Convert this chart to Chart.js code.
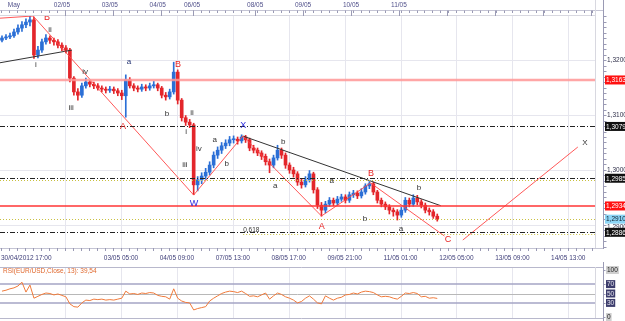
<!DOCTYPE html>
<html>
<head>
<meta charset="utf-8">
<script src="https://cdn.jsdelivr.net/npm/chart.js@4.4.0/dist/chart.umd.min.js"></script>
<style>
body { margin: 0; background: #fff; }
#wrap { position: relative; width: 625px; height: 321px; overflow: hidden; }
#main { position: absolute; left: 0; top: 0; }
#rsi { position: absolute; left: 0; top: 262px; }
</style>
</head>
<body>
<div id="wrap">
  <canvas id="main" width="625" height="262"></canvas>
  <canvas id="rsi" width="625" height="59"></canvas>
</div>
<script>
// EUR/USD 2h bars, 30/04 -> 11/05 2012
const opens = [
  1.3236,1.3240,1.3242,1.3244,1.3251,1.3258,1.3264,1.3269,1.3273,1.3209,
  1.3218,1.3233,1.3240,1.3236,1.3233,1.3227,1.3222,1.3218,1.3167,1.3142,
  1.3136,1.3153,1.3160,1.3156,1.3153,1.3149,1.3147,1.3145,1.3147,1.3144,
  1.3140,1.3135,1.3164,1.3153,1.3149,1.3147,1.3151,1.3149,1.3153,1.3155,
  1.3149,1.3136,1.3133,1.3142,1.3178,1.3127,1.3095,1.3087,1.3082,1.2973,
  1.2982,1.2989,1.2996,1.3009,1.3027,1.3036,1.3044,1.3049,1.3055,1.3056,
  1.3053,1.3060,1.3055,1.3040,1.3036,1.3031,1.3025,1.3015,1.3009,1.3022,
  1.3036,1.3027,1.3009,1.3000,1.2993,1.2978,1.2973,1.2982,1.2993,1.2964,
  1.2936,1.2927,1.2938,1.2945,1.2940,1.2947,1.2951,1.2945,1.2955,1.2958,
  1.2953,1.2960,1.2971,1.2975,1.2960,1.2945,1.2938,1.2933,1.2927,1.2924,
  1.2918,1.2927,1.2945,1.2938,1.2949,1.2942,1.2936,1.2927,1.2924,1.2916
];
const highs = [
  1.3244,1.3246,1.3249,1.3256,1.3264,1.3270,1.3275,1.3280,1.3278,1.3225,
  1.3238,1.3246,1.3244,1.3240,1.3237,1.3231,1.3226,1.3221,1.3170,1.3148,
  1.3158,1.3167,1.3163,1.3160,1.3157,1.3153,1.3151,1.3152,1.3151,1.3148,
  1.3145,1.3173,1.3168,1.3157,1.3153,1.3156,1.3155,1.3158,1.3161,1.3158,
  1.3152,1.3141,1.3147,1.3196,1.3182,1.3130,1.3099,1.3092,1.3085,1.2988,
  1.2995,1.3003,1.3015,1.3033,1.3042,1.3050,1.3055,1.3061,1.3062,1.3060,
  1.3064,1.3063,1.3058,1.3045,1.3040,1.3035,1.3029,1.3020,1.3027,1.3045,
  1.3040,1.3031,1.3013,1.3005,1.2997,1.2983,1.2988,1.2999,1.2996,1.2968,
  1.2941,1.2943,1.2950,1.2949,1.2952,1.2956,1.2955,1.2960,1.2963,1.2962,
  1.2966,1.2975,1.2979,1.2978,1.2963,1.2949,1.2942,1.2937,1.2931,1.2928,
  1.2932,1.2950,1.2949,1.2955,1.2954,1.2946,1.2940,1.2931,1.2928,1.2920
];
const lows = [
  1.3233,1.3237,1.3239,1.3241,1.3247,1.3252,1.3259,1.3262,1.3203,1.3204,
  1.3214,1.3229,1.3230,1.3227,1.3222,1.3217,1.3213,1.3160,1.3136,1.3127,
  1.3132,1.3149,1.3151,1.3148,1.3145,1.3142,1.3140,1.3141,1.3139,1.3135,
  1.3128,1.3096,1.3149,1.3144,1.3142,1.3143,1.3144,1.3145,1.3149,1.3144,
  1.3131,1.3127,1.3129,1.3138,1.3120,1.3089,1.3081,1.3077,1.2955,1.2962,
  1.2975,1.2983,1.2991,1.3004,1.3021,1.3030,1.3039,1.3044,1.3049,1.3047,
  1.3049,1.3050,1.3035,1.3031,1.3026,1.3019,1.3009,1.2995,1.3004,1.3018,
  1.3021,1.3003,1.2994,1.2987,1.2972,1.2967,1.2969,1.2978,1.2958,1.2930,
  1.2916,1.2922,1.2934,1.2935,1.2936,1.2943,1.2940,1.2941,1.2950,1.2948,
  1.2949,1.2956,1.2966,1.2955,1.2940,1.2933,1.2928,1.2920,1.2916,1.2909,
  1.2914,1.2923,1.2933,1.2934,1.2937,1.2931,1.2922,1.2918,1.2912,1.2907
];
const closes = [
  1.3240,1.3242,1.3244,1.3251,1.3258,1.3264,1.3269,1.3273,1.3209,1.3218,
  1.3233,1.3240,1.3236,1.3233,1.3227,1.3222,1.3218,1.3167,1.3142,1.3136,
  1.3153,1.3160,1.3156,1.3153,1.3149,1.3147,1.3145,1.3147,1.3144,1.3140,
  1.3135,1.3164,1.3153,1.3149,1.3147,1.3151,1.3149,1.3153,1.3155,1.3149,
  1.3136,1.3133,1.3142,1.3178,1.3127,1.3095,1.3087,1.3082,1.2973,1.2982,
  1.2989,1.2996,1.3009,1.3027,1.3036,1.3044,1.3049,1.3055,1.3056,1.3053,
  1.3060,1.3055,1.3040,1.3036,1.3031,1.3025,1.3015,1.3009,1.3022,1.3036,
  1.3027,1.3009,1.3000,1.2993,1.2978,1.2973,1.2982,1.2993,1.2964,1.2936,
  1.2927,1.2938,1.2945,1.2940,1.2947,1.2951,1.2945,1.2955,1.2958,1.2953,
  1.2960,1.2971,1.2975,1.2960,1.2945,1.2938,1.2933,1.2927,1.2924,1.2918,
  1.2927,1.2945,1.2938,1.2949,1.2942,1.2936,1.2927,1.2924,1.2916,1.2911
];
const rsi = [
  55,57,60,62,66,74,53,68,40,44, 48,51,50,47,49,46,43,28,22,21,
  30,36,35,38,37,38,36,37,36,38, 40,55,49,50,48,51,50,52,51,46,
  44,43,38,60,40,34,31,30,15,18, 20,22,34,40,45,50,53,55,54,52,
  55,50,44,45,43,47,51,38,45,51, 48,43,40,36,30,33,40,45,38,30,
  28,45,40,36,40,42,47,48,51,49, 53,55,54,52,47,43,44,43,40,38,
  44,51,50,52,50,43,44,40,41,39.54
];

// horizontal levels (right-axis boxes)
const levels = [1.31637, 1.30792, 1.29850, 1.29346, 1.29106, 1.28867];
const levelLabels = ["1,31637", "1,30792", "1,29850", "1,29346", "1,29106", "1,28867"];
const fibLevels = [1.29818, 1.29106, 1.28836];
const priceTicks = [1.32, 1.31, 1.30, 1.29];
const priceTickLabels = ["1,3200", "1,3100", "1,3000", "1,2900"];

// time axis (bar index)
const gridIdx = [15.8, 29.8, 43.8, 57.8, 71.8, 85.8, 99.8, 113.8, 127.8, 141.8];
const bottomLabels = ["30/04/2012 17:00", "03/05 05:00", "04/05 09:00", "07/05 13:00", "08/05 17:00",
  "09/05 21:00", "11/05 01:00", "12/05 05:00", "13/05 09:00", "14/05 13:00"];
const bottomLabelIdx = [-0.5, 29.8, 43.8, 57.8, 71.8, 85.8, 99.8, 113.8, 127.8, 141.8];
const topLabels = ["May", "02/05", "03/05", "04/05", "06/05", "08/05", "09/05", "10/05", "11/05"];
const topLabelIdx = [3.0, 15.0, 27.0, 39.0, 47.6, 63.4, 75.4, 87.4, 99.4];
const topMajorIdx = [15.8, 27.8, 39.8, 47.8, 63.4, 75.4, 87.4, 99.4, 111.4, 123.4, 135.4, 147.4];

// wave count
const redPath = [[-0.5, 1.3276], [7.8, 1.3280], [48, 1.29545], [60.3, 1.30618], [80, 1.29164], [92.3, 1.29764], [110.8, 1.2880]];
const projPath = [[115.4, 1.28727], [144.2, 1.30418]];
const blackLine = [[-0.5, 1.3195], [17.5, 1.3218]];
const trendLine = [[60.3, 1.30618], [109.9, 1.2935]];

const waveText = ["B","ii","i","iii","iv","a","A","B","b","ii","i","iv","iii","W","a","b","X","b","a","a","A","B","b","a","b","C","X"];
const waveIdx = [11.3,12.0,8.5,17.3,20.8,31.8,30.3,44.1,41.3,47.6,46.1,49.3,45.8,48.1,53.3,56.3,60.4,70.4,68.4,82.6,80.1,92.4,90.9,99.9,104.4,111.7,146.0];
const wavePrice = [1.32764,1.32545,1.31909,1.31127,1.31782,1.31964,1.30782,1.31909,1.31018,1.31036,1.30691,1.30382,1.30091,1.29382,1.30545,1.30109,1.30800,1.30509,1.29709,1.29800,1.28964,1.29945,1.29109,1.28927,1.29673,1.28727,1.30491];
const waveKind = ["R","d","d","d","d","n","R","R","d","d","d","d","d","X","d","d","X","d","d","d","R","R","d","d","d","R","d"];

const UP = "#2b6fd6", DOWN = "#e3262b";
const FONT = '"Liberation Sans", Arial, sans-serif';
const barColor = (c) => closes[c.dataIndex] >= opens[c.dataIndex] ? UP : DOWN;
const pts = (arr) => arr.map((p) => ({ x: p[0], y: p[1] }));

function hline(ctx, x0, x1, y, color, width, dash) {
  ctx.save();
  ctx.strokeStyle = color;
  ctx.lineWidth = width;
  ctx.setLineDash(dash || []);
  ctx.beginPath();
  ctx.moveTo(x0, y);
  ctx.lineTo(x1, y);
  ctx.stroke();
  ctx.restore();
}
function vline(ctx, x, y0, y1, color, width) {
  ctx.save();
  ctx.strokeStyle = color;
  ctx.lineWidth = width || 1;
  ctx.beginPath();
  ctx.moveTo(x, y0);
  ctx.lineTo(x, y1);
  ctx.stroke();
  ctx.restore();
}
function box(ctx, x, y, text, bg, fg) {
  ctx.save();
  ctx.fillStyle = bg;
  ctx.fillRect(x, y - 4.5, 30, 9);
  ctx.fillStyle = fg;
  ctx.font = "6.5px " + FONT;
  ctx.textAlign = "left";
  ctx.textBaseline = "middle";
  ctx.fillText(text, x + 1, y + 0.5);
  ctx.restore();
}

const AXIS_X = 603.5;

const mainOverlay = {
  id: "mainOverlay",
  beforeDatasetsDraw(chart) {
    const { ctx, chartArea: a, scales: { x, y } } = chart;
    gridIdx.forEach((g) => vline(ctx, Math.round(x.getPixelForValue(g)) + 0.5, a.top, a.bottom, "#e6e6ee"));
    priceTicks.forEach((p) => hline(ctx, a.left, a.right, Math.round(y.getPixelForValue(p)) + 0.5, "#e6e6ee", 1));
  },
  afterDatasetsDraw(chart) {
    const { ctx, chartArea: a, scales: { x, y } } = chart;
    ctx.save();
    ctx.beginPath();
    ctx.rect(a.left, a.top, a.right - a.left, a.bottom - a.top);
    ctx.clip();
    const py = (v) => Math.round(y.getPixelForValue(v)) + 0.5;
    const dashDot = [5, 2, 1, 2];
    const dots = [1, 2];
    hline(ctx, a.left, a.right, py(fibLevels[0]), "#c9c040", 1, dots);
    hline(ctx, a.left, a.right, py(fibLevels[1]), "#c9c040", 1, dots);
    hline(ctx, x.getPixelForValue(60.4), a.right, py(fibLevels[2]), "#c9c040", 1, dots);
    hline(ctx, a.left, a.right, y.getPixelForValue(levels[0]), "rgba(255,150,150,0.85)", 2.5);
    hline(ctx, a.left, a.right, py(levels[1]), "#222", 1, dashDot);
    hline(ctx, a.left, a.right, py(levels[2]), "#222", 1, dashDot);
    hline(ctx, a.left, a.right, y.getPixelForValue(levels[3]), "#ff3535", 1.5);
    hline(ctx, a.left, a.right, py(levels[5]), "#222", 1, dashDot);

    ctx.textAlign = "center";
    ctx.textBaseline = "middle";
    waveText.forEach((t, i) => {
      const k = waveKind[i];
      const cap = k === "R" || k === "X";
      ctx.font = (cap ? "9px " : "8px ") + FONT;
      ctx.fillStyle = k === "R" ? "#e82020" : k === "X" ? "#2a2ae0" : k === "n" ? "#1f2f6f" : "#333";
      ctx.fillText(t, x.getPixelForValue(waveIdx[i]), y.getPixelForValue(wavePrice[i]));
    });
    ctx.font = "6.5px " + FONT;
    ctx.fillStyle = "#333";
    ctx.textAlign = "left";
    ctx.fillText("0.618", x.getPixelForValue(60.4), y.getPixelForValue(1.2891));
    ctx.restore();
  },
  afterDraw(chart) {
    const { ctx, chartArea: a, scales: { x, y } } = chart;
    const axisCol = "#9a9ab4";
    // top time axis
    hline(ctx, 0, AXIS_X, 10.5, "#c4c4d4", 1);
    hline(ctx, a.left, a.right, a.top + 0.5, "#d8d8e0", 1);
    for (let g = 15.8 - 2 * 8; g < 149; g += 2) {
      const px = Math.round(x.getPixelForValue(g)) + 0.5;
      if (px > 0 && px < AXIS_X) vline(ctx, px, 10.5, 13, axisCol);
    }
    topMajorIdx.forEach((g) => vline(ctx, Math.round(x.getPixelForValue(g)) + 0.5, 10.5, 16, axisCol));
    ctx.save();
    ctx.font = "6.5px " + FONT;
    ctx.fillStyle = "#50508a";
    ctx.textAlign = "center";
    ctx.textBaseline = "middle";
    topLabels.forEach((t, i) => ctx.fillText(t, x.getPixelForValue(topLabelIdx[i]), 5));
    ctx.restore();

    // bottom time axis
    hline(ctx, 0, AXIS_X, a.bottom + 0.5, "#c4c4d4", 1);
    for (let g = 15.8 - 2 * 8; g < 149; g += 2) {
      const px = Math.round(x.getPixelForValue(g)) + 0.5;
      if (px > 0 && px < AXIS_X) vline(ctx, px, a.bottom, a.bottom + 3, axisCol);
    }
    ctx.save();
    ctx.font = "6.5px " + FONT;
    ctx.fillStyle = "#40407a";
    ctx.textBaseline = "middle";
    bottomLabels.forEach((t, i) => {
      ctx.textAlign = i === 0 ? "left" : "center";
      ctx.fillText(t, i === 0 ? 1 : x.getPixelForValue(bottomLabelIdx[i]), 258);
    });
    ctx.restore();

    // right price axis
    vline(ctx, a.right + 0.5, 0, a.bottom, "#d8d8e0");
    vline(ctx, AXIS_X, 0, a.bottom + 1, axisCol);
    for (let v = 1.286; v <= 1.3282; v += 0.001) {
      const py = Math.round(y.getPixelForValue(v)) + 0.5;
      if (py > a.top && py < a.bottom) hline(ctx, AXIS_X, AXIS_X + 3, py, axisCol, 1);
    }
    ctx.save();
    ctx.font = "6.5px " + FONT;
    ctx.fillStyle = "#30304a";
    ctx.textAlign = "left";
    ctx.textBaseline = "middle";
    priceTicks.forEach((p, i) => ctx.fillText(priceTickLabels[i], 607, y.getPixelForValue(p) + (i === 3 ? 2 : 0)));
    ctx.restore();
    const bg = ["#ff1010", "#101010", "#101010", "#ff1010", "#8cd4f4", "#101010"];
    const fg = ["#fff", "#fff", "#fff", "#fff", "#102030", "#fff"];
    levels.forEach((v, i) => box(ctx, 605, y.getPixelForValue(v), levelLabels[i], bg[i], fg[i]));
  }
};

new Chart(document.getElementById("main"), {
  type: "bar",
  data: {
    datasets: [
      {
        data: closes.map((c, i) => ({ x: i, y: [lows[i], highs[i]] })),
        backgroundColor: barColor,
        barThickness: 1,
        grouped: false,
        order: 3
      },
      {
        data: closes.map((c, i) => ({ x: i, y: [opens[i], c] })),
        backgroundColor: barColor,
        barThickness: 3,
        minBarLength: 1,
        grouped: false,
        order: 2
      },
      { type: "line", data: pts(redPath), borderColor: "rgba(255,70,70,0.9)", borderWidth: 1, pointRadius: 0, order: 1 },
      { type: "line", data: pts(projPath), borderColor: "rgba(255,70,70,0.9)", borderWidth: 1, pointRadius: 0, order: 1 },
      { type: "line", data: pts(blackLine), borderColor: "#333", borderWidth: 1, pointRadius: 0, order: 1 },
      { type: "line", data: pts(trendLine), borderColor: "#333", borderWidth: 1, pointRadius: 0, order: 1 }
    ]
  },
  options: {
    responsive: false,
    animation: false,
    events: [],
    layout: { padding: { left: 0, right: 30, top: 15, bottom: 14 } },
    plugins: { legend: { display: false }, tooltip: { enabled: false } },
    scales: {
      x: { type: "linear", min: -0.5, max: 148.5, offset: false, display: false },
      y: { min: 1.285818, max: 1.328182, display: false }
    }
  },
  plugins: [mainOverlay]
});

// RSI panel
const rsiTicks = [100, 70, 50, 30, 0];

const rsiOverlay = {
  id: "rsiOverlay",
  beforeDatasetsDraw(chart) {
    const { ctx, chartArea: a, scales: { x, y } } = chart;
    gridIdx.forEach((g) => vline(ctx, Math.round(x.getPixelForValue(g)) + 0.5, 5, a.bottom + 1, "#e6e6ee"));
    hline(ctx, 0, AXIS_X, 5.5, "#b8b8cc", 1);
    hline(ctx, 0, AXIS_X, Math.round(y.getPixelForValue(0)) + 1.5, "#b8b8cc", 1);
    hline(ctx, a.left, a.right, y.getPixelForValue(70), "#a4a4c4", 1.5);
    hline(ctx, a.left, a.right, Math.round(y.getPixelForValue(50)) + 0.5, "#b8b8b8", 1);
    hline(ctx, a.left, a.right, y.getPixelForValue(30), "#a4a4c4", 1.5);
  },
  afterDraw(chart) {
    const { ctx, chartArea: a, scales: { y } } = chart;
    vline(ctx, a.right + 0.5, 5, a.bottom + 1, "#d8d8e0");
    vline(ctx, AXIS_X, 0, 59, "#9a9ab4");
    ctx.save();
    ctx.font = "6.5px " + FONT;
    ctx.fillStyle = "#e06a30";
    ctx.textAlign = "left";
    ctx.textBaseline = "middle";
    ctx.fillText("RSI(EUR/USD,Close, 13): 39,54", 3, 9);
    ctx.restore();
    rsiTicks.forEach((v) => {
      const mid = v === 70 || v === 50 || v === 30;
      const py = y.getPixelForValue(v);
      ctx.save();
      ctx.font = "6.5px " + FONT;
      const w = ctx.measureText(String(v)).width + 2;
      ctx.fillStyle = mid ? "#3c3c6c" : "#cfcfcf";
      ctx.fillRect(606, py - 4, w, 8);
      ctx.fillStyle = mid ? "#e8e8f0" : "#202020";
      ctx.textBaseline = "middle";
      ctx.fillText(String(v), 607, py + 0.5);
      ctx.restore();
      hline(ctx, AXIS_X, AXIS_X + 2, Math.round(py) + 0.5, "#9a9ab4", 1);
    });
  }
};

new Chart(document.getElementById("rsi"), {
  type: "line",
  data: {
    datasets: [{
      data: rsi.map((v, i) => ({ x: i, y: v })),
      borderColor: "#f07a3a",
      borderWidth: 1,
      pointRadius: 0,
      tension: 0
    }]
  },
  options: {
    responsive: false,
    animation: false,
    events: [],
    layout: { padding: { left: 0, right: 30, top: 8, bottom: 4 } },
    plugins: { legend: { display: false }, tooltip: { enabled: false } },
    scales: {
      x: { type: "linear", min: -0.5, max: 148.5, offset: false, display: false },
      y: { min: 0, max: 100, display: false }
    }
  },
  plugins: [rsiOverlay]
});
</script>
</body>
</html>
